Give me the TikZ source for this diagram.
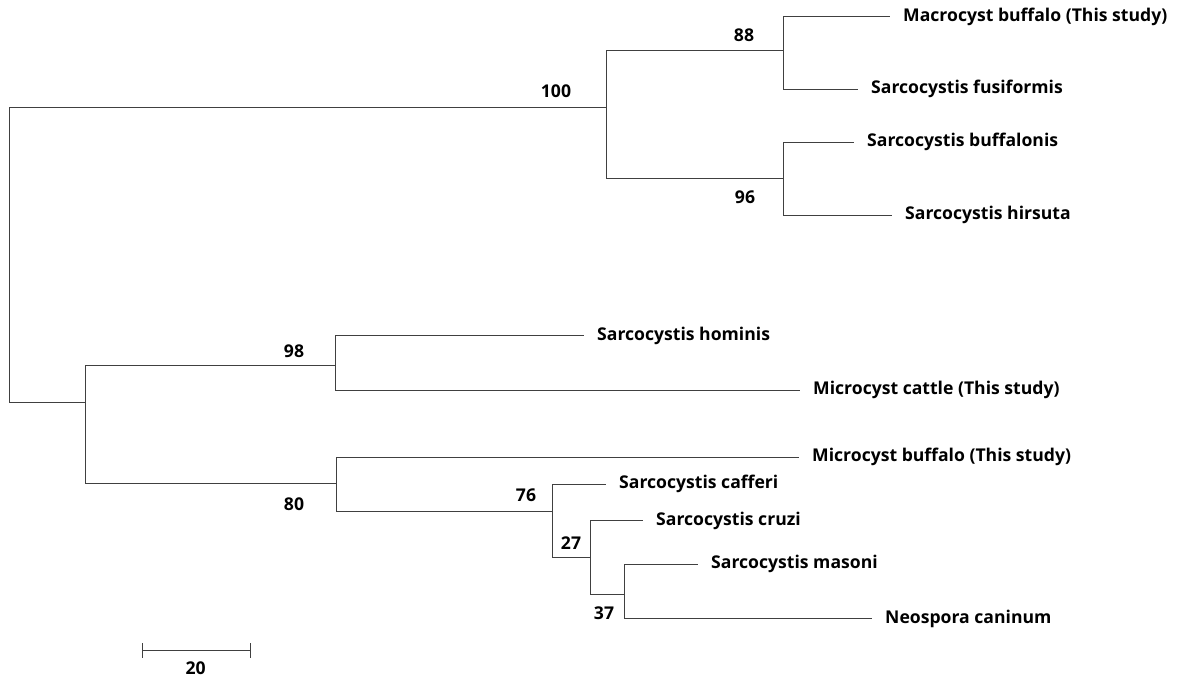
\documentclass[tikz,border=0pt]{standalone}
\usepackage{fontspec}
\setmainfont{Open Sans}
\usetikzlibrary{calc}

\tikzset{
  branch/.style={draw=black!75,line width=1pt},
  leaf/.style={anchor=west,inner xsep=13pt,inner ysep=1pt,font=\bfseries\fontsize{17.6}{19}\selectfont},
  boot/.style={inner sep=0pt,font=\bfseries\fontsize{17.6}{19}\selectfont}
}

\begin{document}
\begin{tikzpicture}[x=1pt,y=-1pt]
\useasboundingbox (0,0) rectangle (1177,677);

% internal nodes (x = depth, y = where the stem meets the parent)
\coordinate (root) at (9.5,254);
\coordinate (A) at (606.5,107.3);
\coordinate (B) at (783,51);
\coordinate (C) at (783,178);
\coordinate (D) at (85.7,402);
\coordinate (E) at (335.3,365);
\coordinate (F) at (336,483.7);
\coordinate (G) at (552.7,511.3);
\coordinate (H) at (590.7,557.3);
\coordinate (I) at (624,594);

% taxa, placed at the tips of their branches
\node[leaf] (macro) at (890,17) {Macrocyst buffalo (This study)};
\node[leaf] (fusi) at (858,89) {Sarcocystis fusiformis};
\node[leaf] (buffa) at (854,142) {Sarcocystis buffalonis};
\node[leaf] (hirs) at (892,215) {Sarcocystis hirsuta};
\node[leaf] (homi) at (584,335.7) {Sarcocystis hominis};
\node[leaf] (mcattle) at (800,390.3) {Microcyst cattle (This study)};
\node[leaf] (mbuff) at (799,457.3) {Microcyst buffalo (This study)};
\node[leaf] (caff) at (606,484) {Sarcocystis cafferi};
\node[leaf] (cruzi) at (643,520.7) {Sarcocystis cruzi};
\node[leaf] (mason) at (698,564) {Sarcocystis masoni};
\node[leaf] (neos) at (872,618.5) {Neospora caninum};

% branches
\draw[branch] (root) |- (A);
\draw[branch] (root) |- (D);
\draw[branch] (A) |- (B);
\draw[branch] (A) |- (C);
\draw[branch] (B) |- (macro.west);
\draw[branch] (B) |- (fusi.west);
\draw[branch] (C) |- (buffa.west);
\draw[branch] (C) |- (hirs.west);
\draw[branch] (D) |- (E);
\draw[branch] (D) |- (F);
\draw[branch] (E) |- (homi.west);
\draw[branch] (E) |- (mcattle.west);
\draw[branch] (F) |- (mbuff.west);
\draw[branch] (F) |- (G);
\draw[branch] (G) |- (caff.west);
\draw[branch] (G) |- (H);
\draw[branch] (H) |- (cruzi.west);
\draw[branch] (H) |- (I);
\draw[branch] (I) |- (mason.west);
\draw[branch] (I) |- (neos.west);

% bootstrap values
\node[boot] (bA) at (556,91) {100};
\node[boot] (bB) at (744,35) {88};
\node[boot] (bC) at (745,197) {96};
\node[boot] (bE) at (294,351) {98};
\node[boot] (bF) at (294,504) {80};
\node[boot] (bG) at (526,495) {76};
\node[boot] (bH) at (571,543) {27};
\node[boot] (bI) at (604,613) {37};

% scale bar
\coordinate (s0) at (142.7,650.7);
\coordinate (s1) at (250.7,650.7);
\draw[branch] (s0) -- (s1);
\draw[branch] ($(s0)+(0,-7.5)$) -- ($(s0)+(0,7.5)$);
\draw[branch] ($(s1)+(0,-7.5)$) -- ($(s1)+(0,7.5)$);
\node[boot] (sbar) at (195.7,668.5) {20};
\end{tikzpicture}
\end{document}
